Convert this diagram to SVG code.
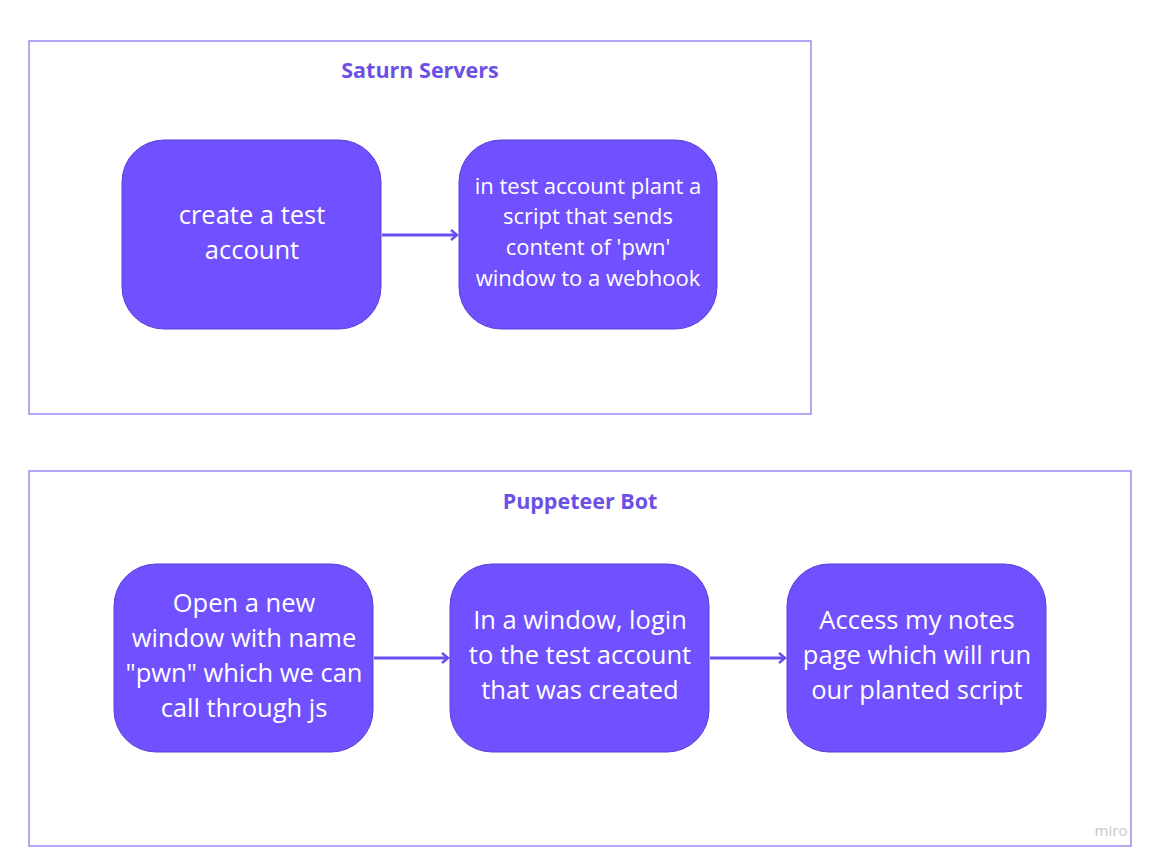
<svg xmlns="http://www.w3.org/2000/svg" width="1156" height="864" viewBox="0 0 1156 864">
<style>
.frame{fill:#ffffff;stroke:#9d8cf2;stroke-width:1.5}
.title{font-family:"Open Sans",sans-serif;font-weight:bold;font-size:21.5px;fill:#6b50e6;text-anchor:middle}
.node{fill:#7050ff;stroke:#5a40d8;stroke-width:1}
.t{font-family:"Open Sans",sans-serif;font-size:25.5px;fill:#ffffff;text-anchor:middle}
.ts{font-family:"Open Sans",sans-serif;font-size:22px;fill:#ffffff;text-anchor:middle}
.conn{stroke:#6a4ff0;stroke-width:3;fill:none}
</style>
<defs>
<marker id="ah" markerWidth="10" markerHeight="12" refX="8" refY="6" orient="auto" markerUnits="userSpaceOnUse">
<path d="M2,1 L8,6 L2,11" fill="none" stroke="#6a4ff0" stroke-width="2.5"/>
</marker>
</defs>
<rect width="1156" height="864" fill="#ffffff"/>
<g id="frame-saturn">
<rect class="frame" x="29" y="41" width="782" height="373"/>
<text class="title" x="420" y="78">Saturn Servers</text>
</g>
<g id="frame-puppeteer">
<rect class="frame" x="29" y="471" width="1102" height="375"/>
<text class="title" x="580" y="509">Puppeteer Bot</text>
</g>
<g id="node-create">
<rect class="node" x="122" y="140" width="259" height="189" rx="42"/>
<text class="t" x="252" y="224">create a test</text>
<text class="t" x="252" y="259">account</text>
</g>
<g id="node-plant">
<rect class="node" x="459" y="140" width="258" height="189" rx="42"/>
<text class="ts" x="588" y="194">in test account plant a</text>
<text class="ts" x="588" y="224">script that sends</text>
<text class="ts" x="588" y="255">content of 'pwn'</text>
<text class="ts" x="588" y="286">window to a webhook</text>
</g>
<g id="node-open">
<rect class="node" x="114" y="564" width="259" height="188" rx="42"/>
<text class="t" x="244" y="612">Open a new</text>
<text class="t" x="244" y="647">window with name</text>
<text class="t" x="244" y="682">"pwn" which we can</text>
<text class="t" x="244" y="717">call through js</text>
</g>
<g id="node-login">
<rect class="node" x="450" y="564" width="259" height="188" rx="42"/>
<text class="t" x="580" y="629">In a window, login</text>
<text class="t" x="580" y="664">to the test account</text>
<text class="t" x="580" y="699">that was created</text>
</g>
<g id="node-access">
<rect class="node" x="787" y="564" width="259" height="188" rx="42"/>
<text class="t" x="917" y="629">Access my notes</text>
<text class="t" x="917" y="664">page which will run</text>
<text class="t" x="917" y="699">our planted script</text>
</g>
<g id="connectors">
<line class="conn" x1="382" y1="235" x2="457" y2="235" marker-end="url(#ah)"/>
<line class="conn" x1="374" y1="658" x2="448" y2="658" marker-end="url(#ah)"/>
<line class="conn" x1="710" y1="658" x2="785" y2="658" marker-end="url(#ah)"/>
</g>
<text x="1111" y="836" font-family="'Open Sans',sans-serif" font-size="15" fill="#c8c8c8" text-anchor="middle">miro</text>
</svg>
